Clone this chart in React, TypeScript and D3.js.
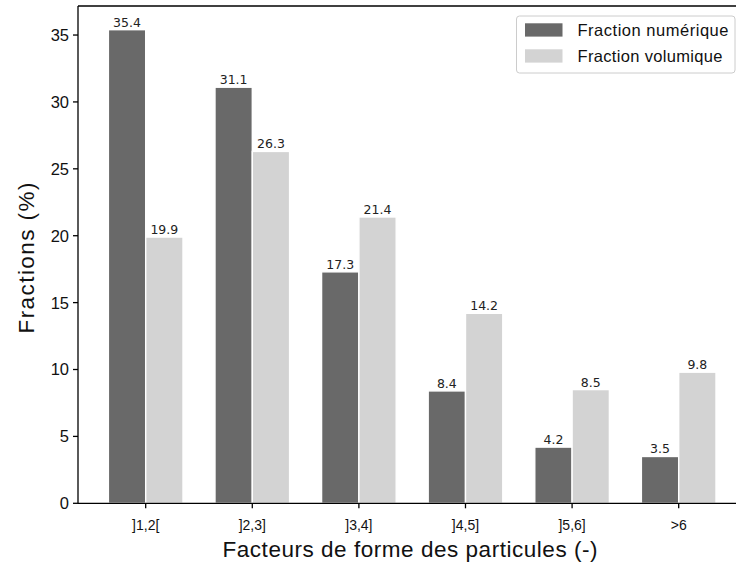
import React from "react";
import * as d3 from "d3";

const categories = ["]1,2[", "]2,3]", "]3,4]", "]4,5]", "]5,6]", ">6"];
const numericFraction = [35.4, 31.1, 17.3, 8.4, 4.2, 3.5];
const volumeFraction = [19.9, 26.3, 21.4, 14.2, 8.5, 9.8];
const yTicks = [0, 5, 10, 15, 20, 25, 30, 35];
const seriesNames = ["Fraction numérique", "Fraction volumique"];
const seriesColors = ["#696969", "#d3d3d3"];

const W = 736;
const H = 567;
const LEFT = 78;
const TOP = 6;
const BOTTOM = 503.3;
const UNIT = 106.6;
const BW = 0.35;

const labelFont = "'Liberation Sans', Arial, sans-serif";
const valueFont = "'DejaVu Sans', sans-serif";

export default function App() {
  const n = categories.length;
  const x0 = -BW - 0.05 * (n - 1 + 2 * BW);
  const x1 = n - 1 + BW + 0.05 * (n - 1 + 2 * BW);
  const x = d3.scaleLinear().domain([x0, x1]).range([LEFT, LEFT + (x1 - x0) * UNIT]);
  const ymax = d3.max([...numericFraction, ...volumeFraction])! * 1.05;
  const y = d3.scaleLinear().domain([0, ymax]).range([BOTTOM, TOP]);
  const series = [numericFraction, volumeFraction];

  return (
    <svg
      width={W}
      height={H}
      style={{ position: "absolute", left: 0, top: 0, background: "#fff" }}
      xmlns="http://www.w3.org/2000/svg"
    >
      <rect x={0} y={0} width={W} height={H} fill="#fff" />
      {series.map((vals, si) =>
        vals.map((v, i) => {
          const xs = x(i + (si === 0 ? -BW : 0));
          const xe = x(i + (si === 0 ? 0 : BW));
          return (
            <g key={`${si}-${i}`}>
              <rect
                x={xs}
                y={y(v)}
                width={xe - xs}
                height={y(0) - y(v)}
                fill={seriesColors[si]}
                stroke="#fff"
                strokeWidth={1.4}
              />
              <text
                x={(xs + xe) / 2}
                y={y(v) - 3}
                textAnchor="middle"
                fontFamily={valueFont}
                fontSize={12.5}
                fill="#222"
              >
                {v.toFixed(1)}
              </text>
            </g>
          );
        })
      )}
      {/* spines */}
      <line x1={LEFT} x2={LEFT} y1={TOP} y2={BOTTOM} stroke="#000" strokeWidth={1.3} />
      <line x1={LEFT} x2={W} y1={TOP} y2={TOP} stroke="#000" strokeWidth={1.3} />
      <line x1={LEFT} x2={W} y1={BOTTOM} y2={BOTTOM} stroke="#000" strokeWidth={1.3} />
      {/* y ticks */}
      {yTicks.map((t) => (
        <g key={t}>
          <line x1={LEFT - 5} x2={LEFT} y1={y(t)} y2={y(t)} stroke="#000" strokeWidth={1.3} />
          <text
            x={LEFT - 9}
            y={y(t)}
            dy="0.36em"
            textAnchor="end"
            fontFamily={labelFont}
            fontSize={16.5}
            fill="#111"
          >
            {t}
          </text>
        </g>
      ))}
      {/* x ticks */}
      {categories.map((c, i) => (
        <g key={c}>
          <line x1={x(i)} x2={x(i)} y1={BOTTOM} y2={BOTTOM + 5} stroke="#000" strokeWidth={1.3} />
          <text
            x={x(i)}
            y={BOTTOM + 27}
            textAnchor="middle"
            fontFamily={labelFont}
            fontSize={14}
            fill="#111"
          >
            {c}
          </text>
        </g>
      ))}
      <text
        x={410}
        y={557}
        textAnchor="middle"
        fontFamily={labelFont}
        fontSize={22.5}
        textLength={375}
        lengthAdjust="spacing"
        fill="#111"
      >
        Facteurs de forme des particules (-)
      </text>
      <text
        transform={`translate(34, 258) rotate(-90)`}
        textAnchor="middle"
        fontFamily={labelFont}
        fontSize={22.5}
        textLength={151}
        lengthAdjust="spacing"
        fill="#111"
      >
        Fractions (%)
      </text>
      {/* legend */}
      <g>
        <rect
          x={516.5}
          y={16}
          width={218.5}
          height={57}
          rx={3}
          fill="#fff"
          fillOpacity={0.8}
          stroke="#cccccc"
          strokeWidth={1}
        />
        {seriesNames.map((s, i) => (
          <g key={s}>
            <rect x={525} y={23.3 + i * 26} width={37.5} height={13.3} fill={seriesColors[i]} />
            <text
              x={577.5}
              y={30 + i * 26}
              dy="0.36em"
              fontFamily={labelFont}
              fontSize={16.5}
              textLength={i === 0 ? 151 : 145}
              lengthAdjust="spacing"
              fill="#111"
            >
              {s}
            </text>
          </g>
        ))}
      </g>
    </svg>
  );
}
